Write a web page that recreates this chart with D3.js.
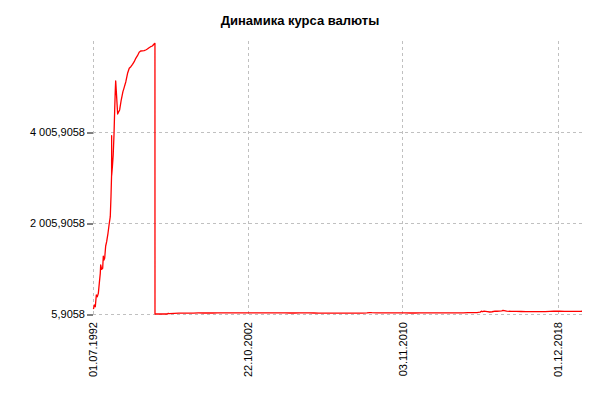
<!DOCTYPE html>
<html><head><meta charset="utf-8">
<script src="https://cdn.jsdelivr.net/npm/d3@7"></script>
<style>html,body{margin:0;padding:0;background:#fff;}</style>
</head><body>
<svg id="chart" width="600" height="400"></svg>
<script>
const title = "Динамика курса валюты";
const dates = [
"1992-07-01","1992-08-01","1992-08-28","1992-10-12","1992-11-26","1993-01-08","1993-02-24","1993-04-08",
"1993-05-22","1993-06-09","1993-07-24","1993-09-06","1993-10-04","1993-11-03","1993-12-04","1994-01-18",
"1994-03-03","1994-05-01","1994-06-28","1994-08-11","1994-09-12","1994-10-10","1994-10-11","1994-10-12",
"1994-11-15","1994-12-20","1995-01-25","1995-02-25","1995-03-25","1995-04-10","1995-05-20","1995-07-06",
"1995-10-03","1995-12-13","1996-02-27","1996-04-12","1996-05-22","1996-06-26","1996-07-30","1996-08-31",
"1996-10-04","1996-11-07","1996-12-09","1997-01-12","1997-02-15","1997-03-18","1997-05-26","1997-06-27",
"1997-07-31","1997-09-03","1997-10-05","1997-11-09","1997-12-13","1997-12-31",
"1998-01-01","1998-04-01","1998-07-01","1998-08-17","1998-09-09","1998-10-01","1998-12-31",
"1999-04-01","1999-07-01","1999-10-01","1999-12-31","2000-04-01","2000-07-01","2000-10-01","2000-12-31",
"2001-04-01","2001-07-01","2001-10-01","2001-12-31","2002-04-01","2002-07-01","2002-10-22","2002-12-31",
"2003-04-01","2003-07-01","2003-10-01","2003-12-31","2004-04-01","2004-07-01","2004-10-01","2004-12-31",
"2005-04-01","2005-07-01","2005-10-01","2005-12-31","2006-04-01","2006-07-01","2006-10-01","2006-12-31",
"2007-04-01","2007-07-01","2007-10-01","2007-12-31","2008-04-01","2008-07-01","2008-10-01","2008-12-31",
"2009-02-19","2009-04-01","2009-07-01","2009-10-01","2009-12-31","2010-04-01","2010-07-01","2010-11-03",
"2010-12-31","2011-04-01","2011-07-01","2011-10-01","2011-12-31","2012-04-01","2012-07-01","2012-10-01",
"2012-12-31","2013-04-01","2013-07-01","2013-10-01","2013-12-31","2014-04-01","2014-07-01","2014-10-01",
"2014-11-15","2014-12-16","2014-12-31","2015-01-30","2015-04-01","2015-05-15","2015-07-01","2015-08-25",
"2015-10-01","2015-12-31","2016-01-22","2016-04-01","2016-07-01","2016-10-01","2016-12-31","2017-04-01",
"2017-07-01","2017-10-01","2017-12-31","2018-04-01","2018-07-01","2018-09-12","2018-12-01","2018-12-31",
"2019-04-01","2019-07-01","2019-10-01","2019-12-31","2020-02-01","2020-02-28"
];
const values = [
125,131,204,166,423,386,460,680,
900,1083,988,1010,1280,1193,1230,1500,
1595,1780,2000,2145,2584,3081,3926,3050,
3250,3500,3950,4500,4950,5127,4800,4401,
4490,4709,4892,4966,5111,5296,5406,5441,
5494,5551,5626,5683,5757,5786,5793,5808,
5830,5859,5881,5896,5940,5955,
5.9058,6.12,6.2,6.3,20.8,15.9,20.65,
24.2,24.2,25.1,27.0,28.5,27.9,27.8,28.2,
28.7,29.1,29.4,30.1,31.1,31.4,31.7,31.8,
31.4,30.3,30.6,29.5,28.5,29.1,29.2,27.7,
27.8,28.7,28.5,28.8,27.7,26.8,26.8,26.3,
26.0,25.8,24.9,24.5,23.5,23.4,25.4,29.4,
36.4,34.0,31.3,30.0,30.2,29.4,31.2,30.8,
30.5,28.4,28.0,32.2,32.2,29.3,32.8,31.0,
30.4,31.1,32.7,32.4,32.7,35.7,34.3,39.4,
47,67.8,56.3,69.0,58.0,50.0,55.5,70.0,
66.2,72.9,83.6,67.6,64.3,62.7,60.7,56.4,
59.1,58.0,57.6,57.3,62.8,68.0,66.6,69.5,
65.0,63.1,64.4,61.9,63.9,66.0
];
const xTickDates = ["1992-07-01","2002-10-22","2010-11-03","2018-12-01"];
const yTickValues = [5.9058, 2005.9058, 4005.9058];
const yTop = 6005.9058;
// x-axis follows observation order: density of observations differs by period
const xBreaks = ["1992-07-01","1996-04-15","1998-01-01","2020-02-28"];

const parse = d3.timeParse("%Y-%m-%d");
const data = dates.map((d,i)=>({date: parse(d), value: values[i]}));

const svg = d3.select("#chart");
const pLeft = 93, pRight = 582, pTop = 41, pBottom = 314;

const x = d3.scaleTime()
  .domain(xBreaks.map(parse))
  .range([pLeft, 124, 155, pRight]);
const y = d3.scaleLinear().domain([yTickValues[0], yTop]).range([pBottom, pTop]);

const loc = d3.formatLocale({decimal: ",", thousands: "\u00a0", grouping: [3], currency: ["",""]});
const fmtY = loc.format(",.4f");
const fmtX = d3.timeFormat("%d.%m.%Y");

const grid = svg.append("g").attr("stroke", "#c0c0c0").attr("stroke-dasharray", "3,3").attr("stroke-width", 1);
yTickValues.forEach(v => {
  grid.append("line").attr("x1", pLeft).attr("x2", pRight)
    .attr("y1", Math.round(y(v)) + 0.5).attr("y2", Math.round(y(v)) + 0.5);
});
xTickDates.forEach(d => {
  const xx = Math.round(x(parse(d))) + 0.5;
  grid.append("line").attr("x1", xx).attr("x2", xx).attr("y1", pTop).attr("y2", pBottom);
});

const line = d3.line().x(d => x(d.date)).y(d => y(d.value));
svg.append("path").datum(data)
  .attr("fill", "none").attr("stroke", "#ff0000").attr("stroke-width", 1.3)
  .attr("stroke-linejoin", "round")
  .attr("d", line);

// y axis
const yAxis = d3.axisLeft(y).tickValues(yTickValues).tickFormat(fmtY).tickSize(6).tickPadding(2);
const gy = svg.append("g").attr("transform", `translate(${pLeft},0)`).call(yAxis);
gy.select(".domain").remove();
gy.selectAll(".tick line").attr("stroke", "#000").attr("transform", "translate(0,0.5)");
gy.selectAll(".tick text").attr("font-family", "'Liberation Sans', Arial, sans-serif")
  .attr("font-size", 11).attr("fill", "#000");

// x axis labels
const xAxis = d3.axisBottom(x).tickValues(xTickDates.map(parse)).tickFormat(fmtX).tickSize(0).tickPadding(0);
const gx = svg.append("g").attr("transform", `translate(0,${pBottom})`).call(xAxis);
gx.select(".domain").remove();
gx.selectAll(".tick text")
  .attr("font-family", "'Liberation Sans', Arial, sans-serif")
  .attr("font-size", 11).attr("fill", "#000")
  .attr("text-anchor", "end")
  .attr("transform", "rotate(-90)")
  .attr("x", -8).attr("y", 0).attr("dy", "0.35em");

svg.append("text").attr("x", 300).attr("y", 25).attr("text-anchor", "middle")
  .attr("font-family", "'Liberation Sans', Arial, sans-serif")
  .attr("font-size", 13).attr("font-weight", "bold").attr("fill", "#000")
  .text(title);
</script>
</body></html>
